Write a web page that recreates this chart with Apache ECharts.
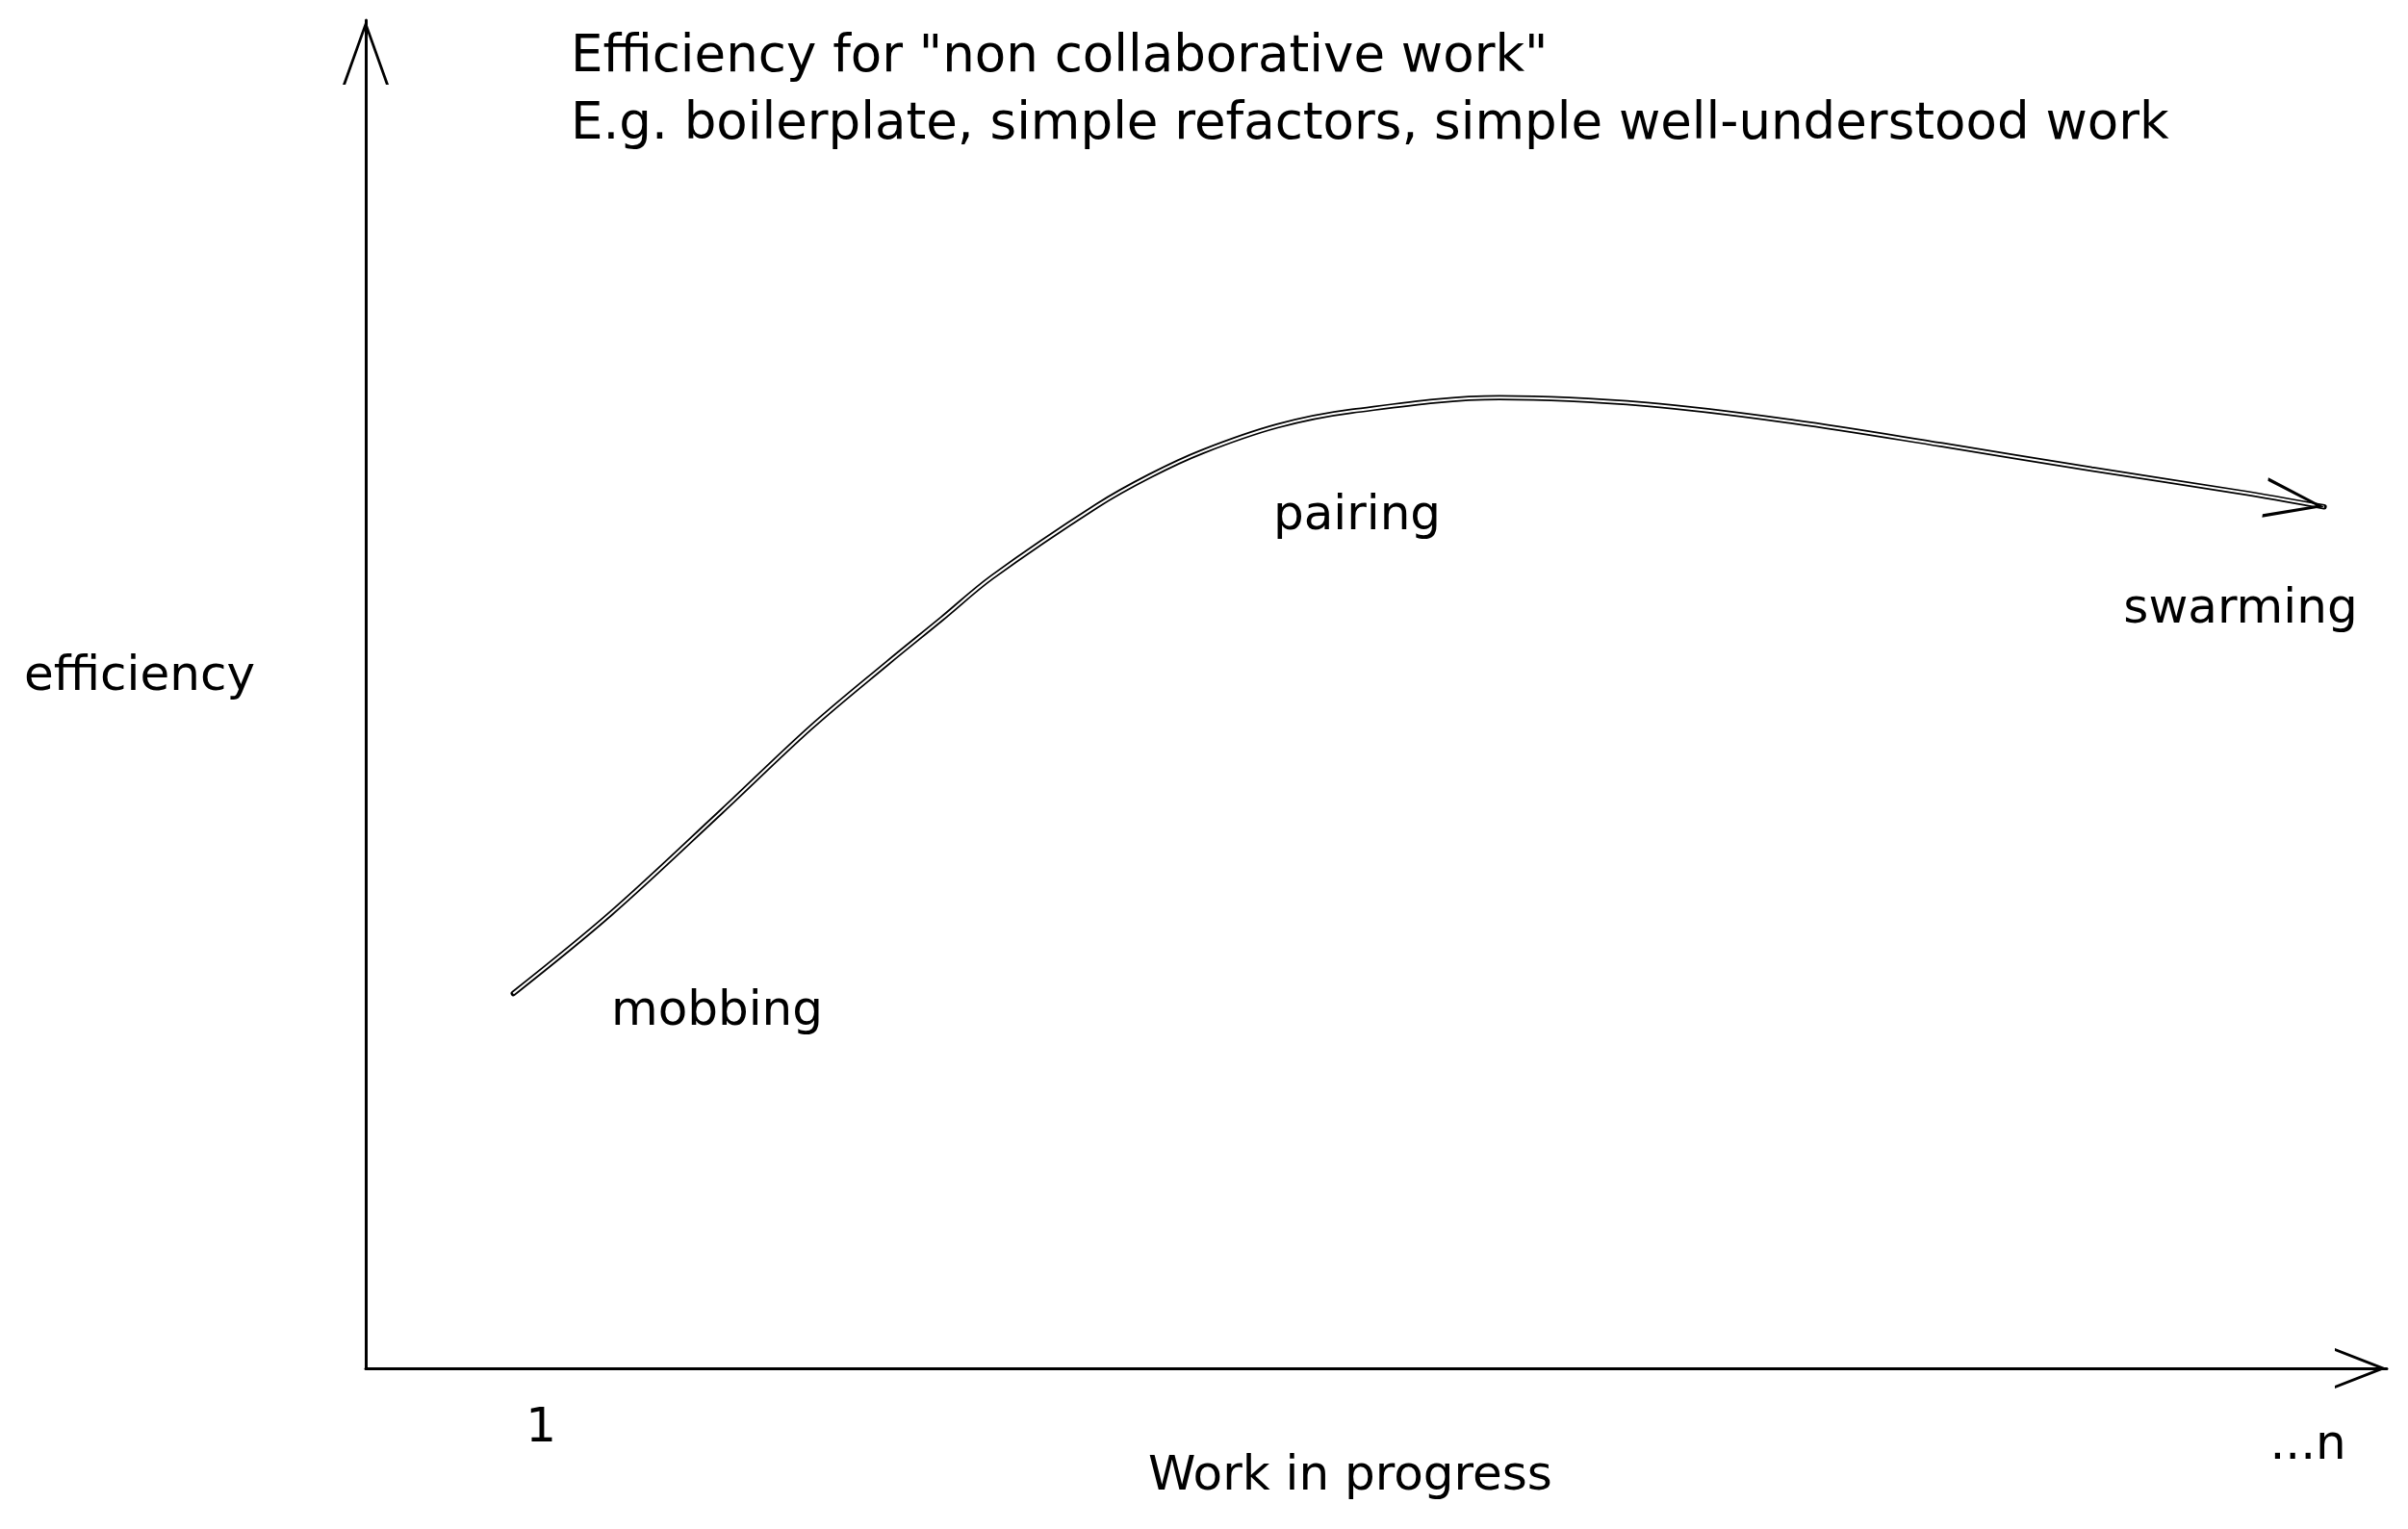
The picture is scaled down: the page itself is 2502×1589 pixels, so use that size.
<!DOCTYPE html>
<html>
<head>
<meta charset="utf-8">
<style>
  html, body { margin: 0; padding: 0; background: #ffffff; }
  #chart { width: 2502px; height: 1589px; }
</style>
<script src="https://cdn.jsdelivr.net/npm/echarts@6/dist/echarts.min.js"></script>
</head>
<body>
<div id="chart"></div>
<script>
// ---- data ----
const titleLines = ['Efficiency for "non collaborative work"', 'E.g. boilerplate, simple refactors, simple well-understood work'];
const yAxisName = 'efficiency';
const xAxisName = 'Work in progress';
const xTickValues = [8.67, 96.1];
const xTickLabels = ['1', '...n'];
const wipValues = [7.3, 12.1, 17.6, 22.0, 25.8, 28.5, 31.0, 36.2, 38.8, 41.4, 45.1, 48.8, 56.1, 63.4, 70.7, 78.0, 85.4, 92.7, 96.9];
const efficiencyValues = [27.8, 33.7, 41.3, 47.5, 52.3, 55.6, 58.7, 64.0, 66.2, 68.0, 69.9, 71.0, 72.0, 71.5, 70.2, 68.5, 66.7, 65.0, 63.9];
const annotationTexts = ['mobbing', 'pairing', 'swarming'];

// ---- style / layout ----
const FONT = '"DejaVu Sans", sans-serif';
const FS = 50;
const TITLE_FS = 53;
const INK = '#000000';
const annotationLayout = [[745, 1052], [1410, 537], [2328, 634]];
const yNameLayout = [145, 704];
const xNameLayout = [1403, 1535];

const yArrow = 'path://M24 0 L24.01 0 L24 0.01 Z M24 67 L48 134 L45 134 L24 75 L3 134 L0 134 Z';
const xArrow = 'path://M21 0 L21.01 0 L21 0.01 Z M21 54 L42 108 L39 108 L21 62 L3 108 L0 108 Z';
// open chevron pointing up, tip at the centre of its box
const curveArrow = 'path://M21 0 L21.01 0 L21 0.01 Z M21 62 L42 124 L38.5 124 L21 71 L3.5 124 L0 124 Z';

const curveData = wipValues.map((x, i) => [x, efficiencyValues[i]]);
const lastIdx = wipValues.length - 1;

const textGraphic = (text, pos) => ({
  type: 'text', x: pos[0], y: pos[1], silent: true,
  style: { text: text, font: FS + 'px ' + FONT, fill: INK, textAlign: 'center', textVerticalAlign: 'middle' }
});

const chart = echarts.init(document.getElementById('chart'), null, { renderer: 'canvas' });
chart.setOption({
  backgroundColor: '#ffffff',
  animation: false,
  title: {
    text: titleLines.join('\n'),
    left: 593, top: 25, padding: 0,
    textStyle: { fontFamily: FONT, fontSize: TITLE_FS, fontWeight: 'normal', color: INK, lineHeight: 70 }
  },
  grid: { left: 380, right: 22, top: 21, bottom: 167, containLabel: false },
  xAxis: {
    type: 'value', min: 0, max: 100,
    axisLine: { show: true, lineStyle: { color: INK, width: 3 }, symbol: ['none', xArrow], symbolSize: [42, 108] },
    axisTick: { show: false },
    splitLine: { show: false },
    axisLabel: {
      customValues: xTickValues,
      formatter: (v) => {
        const i = xTickValues.indexOf(v);
        if (i < 0) return '';
        return i === xTickValues.length - 1 ? '{low|' + xTickLabels[i] + '}' : xTickLabels[i];
      },
      margin: 38, fontFamily: FONT, fontSize: FS, color: INK,
      rich: { low: { fontFamily: FONT, fontSize: FS, color: INK, padding: [18, 0, 0, 0] } }
    }
  },
  yAxis: {
    type: 'value', min: 0, max: 100,
    axisLine: { show: true, lineStyle: { color: INK, width: 3 }, symbol: ['none', yArrow], symbolSize: [48, 134] },
    axisTick: { show: false },
    splitLine: { show: false },
    axisLabel: { show: false }
  },
  series: [
    {
      type: 'line', name: 'efficiency', data: curveData, smooth: 0.35,
      symbol: 'none', z: 2,
      lineStyle: { color: INK, width: 5.5, cap: 'round' }
    },
    {
      type: 'line', name: 'efficiency-inner', data: curveData, smooth: 0.35,
      symbol: 'none', z: 3,
      lineStyle: { color: '#ffffff', width: 2 }
    },
    {
      type: 'scatter', name: 'arrowhead', z: 6, silent: true,
      data: [[wipValues[lastIdx], efficiencyValues[lastIdx]]],
      symbol: curveArrow,
      symbolSize: [42, 124],
      symbolKeepAspect: false,
      symbolRotate: -99,
      itemStyle: { color: INK, opacity: 1, borderWidth: 0 }
    }
  ],
  graphic: [
    textGraphic(yAxisName, yNameLayout),
    textGraphic(xAxisName, xNameLayout)
  ].concat(annotationTexts.map((t, i) => textGraphic(t, annotationLayout[i])))
});
</script>
</body>
</html>
